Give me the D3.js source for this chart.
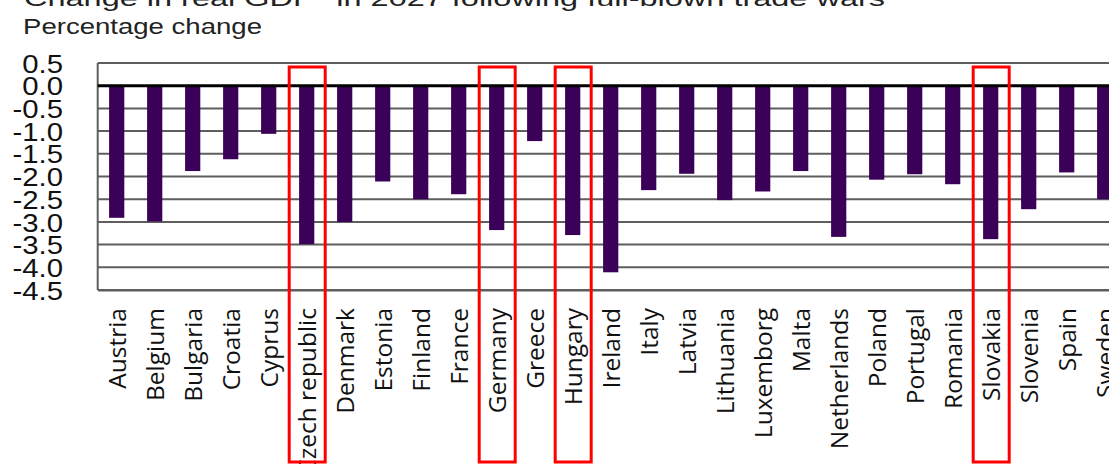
<!DOCTYPE html>
<html>
<head>
<meta charset="utf-8">
<script src="https://cdn.jsdelivr.net/npm/d3@7/dist/d3.min.js"></script>
<style>
  html, body { margin: 0; padding: 0; background: #fff; overflow: hidden; }
  svg { display: block; }
</style>
</head>
<body>
<svg id="chart" width="1109" height="464"></svg>
<script>
// ---- data ----
const countries = [
  "Austria", "Belgium", "Bulgaria", "Croatia", "Cyprus", "Czech republic", "Denmark",
  "Estonia", "Finland", "France", "Germany", "Greece", "Hungary", "Ireland", "Italy",
  "Latvia", "Lithuania", "Luxemborg", "Malta", "Netherlands", "Poland", "Portugal",
  "Romania", "Slovakia", "Slovenia", "Spain", "Sweden",
];
const gdpChange = [
  -2.91, -2.99, -1.88, -1.62, -1.06, -3.49, -3.0,
  -2.11, -2.5, -2.39, -3.18, -1.22, -3.29, -4.11, -2.3,
  -1.94, -2.52, -2.33, -1.88, -3.33, -2.07, -1.95,
  -2.17, -3.38, -2.72, -1.91, -2.5,
];
const highlighted = ["Czech republic", "Germany", "Hungary", "Slovakia"];
const yTicks = [0.5, 0, -0.5, -1, -1.5, -2, -2.5, -3, -3.5, -4, -4.5];
const title = "Change in real GDP* in 2027 following full-blown trade wars";
const subtitle = "Percentage change";

// ---- layout ----
const W = 1109, H = 464;
const plot = { left: 97.7, top: 63, bottom: 290, step: 38 };
const BAR = "#3b0058";
const GRID = "#5e5e5e";
const rows = countries.map((c, i) => ({ country: c, value: gdpChange[i] }));

const svg = d3.select("#chart");

const x = d3.scaleBand()
  .domain(countries)
  .range([plot.left, plot.left + countries.length * plot.step])
  .paddingInner(0.6)
  .paddingOuter(0.3);
const y = d3.scaleLinear().domain([0.5, -4.5]).range([plot.top, plot.bottom]);

// the source picture is pulled wider than it is tall; widen horizontal text to match
function stretch(sel, k) {
  sel.each(function () {
    const len = this.getComputedTextLength();
    this.setAttribute("textLength", len * k);
    this.setAttribute("lengthAdjust", "spacingAndGlyphs");
  });
}

// ---- titles ----
svg.append("text")
  .attr("x", 24).attr("y", 6)
  .attr("font-family", "Liberation Sans, Arial, sans-serif")
  .attr("font-size", 22).attr("fill", "#222")
  .text(title)
  .call((t) => t.attr("textLength", 861).attr("lengthAdjust", "spacingAndGlyphs"));

svg.append("text")
  .attr("x", 23).attr("y", 34)
  .attr("font-family", "Liberation Sans, Arial, sans-serif")
  .attr("font-size", 22).attr("fill", "#222")
  .text(subtitle)
  .call((t) => t.attr("textLength", 239).attr("lengthAdjust", "spacingAndGlyphs"));

// ---- gridlines + frame ----
svg.append("g")
  .selectAll("line")
  .data(yTicks.filter((d) => d !== 0))
  .join("line")
  .attr("x1", plot.left).attr("x2", W)
  .attr("y1", (d) => y(d)).attr("y2", (d) => y(d))
  .attr("stroke", GRID).attr("stroke-width", 2);

svg.append("line")
  .attr("x1", plot.left).attr("x2", plot.left)
  .attr("y1", y(0.5)).attr("y2", y(-4.5))
  .attr("stroke", GRID).attr("stroke-width", 2);

// ---- bars ----
svg.append("g")
  .selectAll("rect")
  .data(rows)
  .join("rect")
  .attr("x", (d) => x(d.country))
  .attr("width", x.bandwidth())
  .attr("y", y(0))
  .attr("height", (d) => y(d.value) - y(0))
  .attr("fill", BAR);

// zero line sits over the bar tops
svg.append("line")
  .attr("x1", plot.left).attr("x2", W)
  .attr("y1", y(0)).attr("y2", y(0))
  .attr("stroke", "#000").attr("stroke-width", 3);

// ---- y axis ----
const yAxis = svg.append("g")
  .attr("transform", `translate(${plot.left},0)`)
  .call(d3.axisLeft(y).tickValues(yTicks).tickSize(0).tickPadding(plot.left - 63).tickFormat((d) => d.toFixed(1)));
yAxis.select(".domain").remove();
yAxis.selectAll("text")
  .attr("font-family", "Liberation Sans, Arial, sans-serif")
  .attr("font-size", 25.5)
  .attr("fill", "#111")
  .attr("dy", "0.36em")
  .call(stretch, 1.15);

// ---- x axis (rotated country names) ----
const xAxis = svg.append("g")
  .attr("transform", `translate(0,${plot.bottom})`)
  .call(d3.axisBottom(x).tickSize(0));
xAxis.select(".domain").attr("stroke", GRID).attr("stroke-width", 2);
xAxis.selectAll("text")
  .attr("font-family", "Open Sans, Noto Sans, sans-serif")
  .attr("font-size", 24.5)
  .attr("fill", "#111")
  .attr("text-anchor", "end")
  .attr("transform", "rotate(-90)")
  .attr("x", -18)
  .attr("y", 0)
  .attr("dy", "0.36em");

// ---- red highlight boxes ----
svg.append("g")
  .selectAll("rect")
  .data(highlighted)
  .join("rect")
  .attr("x", (c) => x(c) + x.bandwidth() / 2 - 17.5)
  .attr("y", 67)
  .attr("width", 36)
  .attr("height", 395)
  .attr("fill", "none")
  .attr("stroke", "#ff0000")
  .attr("stroke-width", 3);
</script>
</body>
</html>
